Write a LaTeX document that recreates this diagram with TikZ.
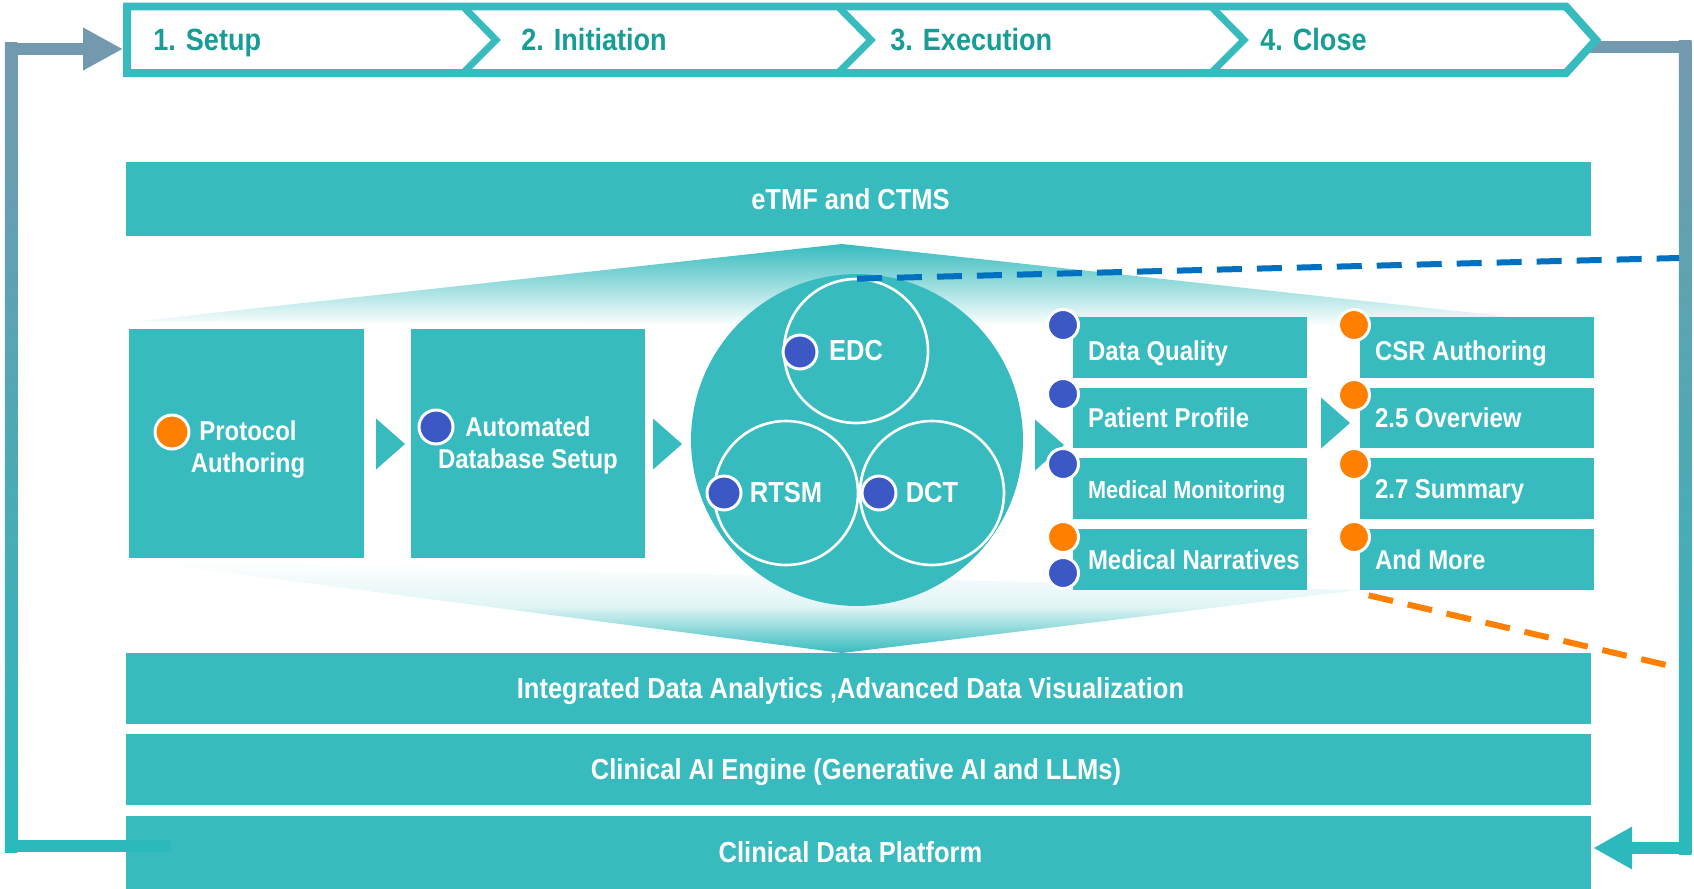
\documentclass[tikz,border=0pt]{standalone}
\usepackage{fontspec}
\setmainfont{Liberation Sans}[FakeStretch=0.88]
\usetikzlibrary{arrows.meta,calc}

\definecolor{cdteal}{HTML}{37BBBE}
\definecolor{steptext}{HTML}{179D96}
\definecolor{dotblue}{HTML}{3C58C4}
\definecolor{dotorange}{HTML}{FF7F00}
\definecolor{loopgray}{HTML}{7399AE}
\definecolor{loopteal}{HTML}{2BB9BC}
\definecolor{dashblue}{HTML}{0070C0}

\tikzset{
  bar/.style={fill=cdteal, text=white, inner sep=0pt, minimum width=29.3cm, text height=11.8pt, text depth=0pt, font=\fontsize{16.5}{20}\selectfont\bfseries},
  stepname/.style={anchor=base west, inner sep=0pt, text=steptext, font=\fontsize{17.5}{21}\selectfont\bfseries},
  procbox/.style={fill=cdteal, inner sep=0pt, minimum width=4.7cm, minimum height=4.58cm},
  proctext/.style={text=white, inner sep=0pt, align=center, font=\fontsize{15.5}{18.2}\selectfont\bfseries},
  rowbox/.style={fill=cdteal, text=white, inner xsep=0.3cm, inner ysep=0pt, minimum width=4.68cm, minimum height=1.22cm, text height=11.1pt, text depth=0pt, font=\fontsize{15.5}{18}\selectfont\bfseries},
  hub/.style={circle, fill=cdteal, inner sep=0pt, minimum size=6.64cm},
  module/.style={circle, draw=white, line width=1.5pt, inner sep=0pt, minimum size=2.88cm, text=white, font=\fontsize{16.5}{20}\selectfont\bfseries},
  dot/.style={circle, draw=white, line width=1.7pt, inner sep=0pt, minimum size=0.68cm},
  bluedot/.style={dot, fill=dotblue},
  orangedot/.style={dot, fill=dotorange},
  smalldot/.style={minimum size=0.62cm},
  zoomline/.style={line width=0.12cm, dash pattern=on 0.5cm off 0.3cm},
  loopline/.style={line width=0.25cm},
}
\newcommand{\rowtext}[1]{\makebox[4.08cm][l]{#1}}

\begin{document}
\begin{tikzpicture}[x=0.02cm, y=-0.02cm]
\useasboundingbox (0,0) rectangle (1694,889);

%% fan behind the middle row
\shade[top color=cdteal, bottom color=white] (130,322) -- (842,244) -- (1594,326) -- cycle; % upper fan
\shade[top color=white, bottom color=cdteal, middle color=cdteal!15!white] (130,560) -- (842,653) -- (1360,590) -- cycle; % lower fan

%% layer bars
\node[bar, minimum height=1.48cm] (etmf) at (858.5,199) {eTMF and CTMS\hspace*{0.32cm}};
\node[bar, minimum height=1.42cm] (analytics) at (858.5,688.5) {Integrated Data Analytics ,Advanced Data Visualization\hspace*{0.32cm}};
\node[bar, minimum height=1.42cm] (aiengine) at (858.5,769.5) {Clinical AI Engine (Generative AI and LLMs)\hspace*{0.1cm}};
\node[bar, minimum height=1.46cm] (platform) at (858.5,852.5) {Clinical Data Platform\hspace*{0.32cm}};

%% loop back from close to setup
\coordinate (bannerL) at (123,49);
\coordinate (lt) at (11,49);
\coordinate (lb) at (11,846);
\coordinate (lstart) at (171,846);
\coordinate (rt) at (1685,47);
\coordinate (rb) at (1685,848);
\draw[loopgray, loopline] (1590,47) -- (rt); % out of the last step
\shade[top color=loopgray, bottom color=loopteal] (1678.75,40.75) rectangle (1691.25,854.25); % right side down
\draw[loopteal, loopline, -{Triangle[length=0.78cm, width=0.8cm]}] (rb) -- ($(platform.east |- rb)+(2,0)$); % into the platform
\draw[loopteal, loopline] (lstart) -- (lb); % out of the platform
\shade[top color=loopgray, bottom color=loopteal] (4.75,42.75) rectangle (17.25,852.25); % left side up
\draw[loopgray, loopline, -{Triangle[length=0.8cm, width=0.8cm]}] (lt) -- (bannerL); % into the first step

%% step banner
\draw[cdteal, line width=0.16cm, fill=white] (127,6.5) -- (1566,6.5) -- (1596,40) -- (1566,73) -- (127,73) -- cycle; % outline
\foreach \x in {463,838,1211}
  \draw[cdteal, line width=0.14cm] (\x,6.5) -- (\x+33,40) -- (\x,73); % chevron
\node[stepname] (setup) at (153,51) {1. Setup};
\node[stepname] (initiation) at (521,51) {2. Initiation};
\node[stepname] (execution) at (890,51) {3. Execution};
\node[stepname] (close) at (1260,51) {4. Close};

%% middle row
\node[procbox] (protocol) at (246.5,443.5) {};
\node[proctext] (protocoltext) at (248,450) {Protocol\\Authoring};
\node[procbox] (dbsetup) at (528,443.5) {};
\node[proctext] (dbsetuptext) at (528,445) {Automated\\Database Setup};
\foreach \x/\y in {376/444, 653/444, 1035/445, 1321/423}
  \fill[cdteal] (\x,\y-25.5) -- (\x+29,\y) -- (\x,\y+25.5) -- cycle; % flow arrow

% hub of three modules
\node[hub] (hub) at (857,440) {};
\node[module] (edc) at (856,351) {EDC};
\node[module] (rtsm) at (786,493) {RTSM};
\node[module] (dct) at (932,493) {DCT};

% execution and close columns
\node[rowbox, text height=14.8pt] (quality) at (1190,347.5) {\rowtext{Data Quality}};
\node[rowbox] (profile) at (1190,418) {\rowtext{Patient Profile}};
\node[rowbox, font=\fontsize{14}{17}\selectfont\bfseries] (monitoring) at (1190,488.5) {\rowtext{Medical Monitoring}};
\node[rowbox] (narratives) at (1190,559.5) {\rowtext{Medical Narratives}};
\node[rowbox, text height=14.8pt] (csr) at (1477,347.5) {\rowtext{CSR Authoring}};
\node[rowbox] (overview) at (1477,418) {\rowtext{2.5 Overview}};
\node[rowbox] (summary) at (1477,488.5) {\rowtext{2.7 Summary}};
\node[rowbox] (more) at (1477,559.5) {\rowtext{And More}};

% dots
\node[orangedot] (protocoldot) at (172,432) {};
\node[bluedot] (dbdot) at (436,427) {};
\node[bluedot] (edcdot) at (800,352) {};
\node[bluedot] (rtsmdot) at (724,493) {};
\node[bluedot] (dctdot) at (879,493) {};
\foreach \y [count=\i] in {325,394,464,573}
  \node[bluedot, smalldot] (execdot\i) at (1063,\y) {};
\node[orangedot, smalldot] (narrdot) at (1063,537) {};
\foreach \y [count=\i] in {325,395,464,537}
  \node[orangedot, smalldot] (closedot\i) at (1354,\y) {};

%% zoom lines
\coordinate (blueend) at (1679,258);
\coordinate (orangeend) at (1679,668);
\draw[dashblue, zoomline] ($(hub.north)+(0,5)$) -- (blueend);
\draw[dotorange, zoomline] ($(more.south west)+(9,5)$) -- (orangeend);

\end{tikzpicture}
\end{document}
